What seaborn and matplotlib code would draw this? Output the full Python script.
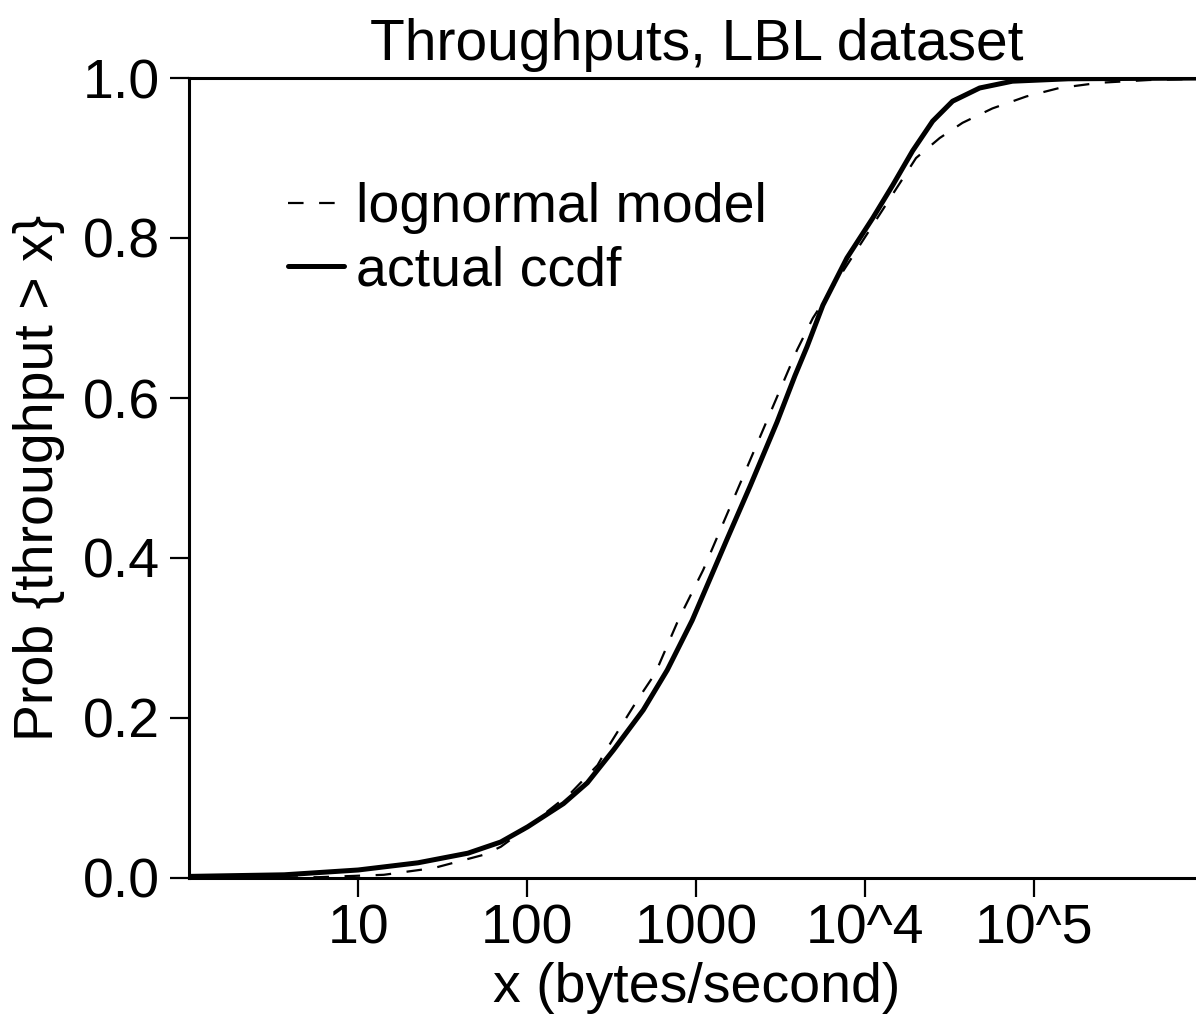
import numpy as np
import pandas as pd
import matplotlib
matplotlib.use('Agg')
import matplotlib.pyplot as plt
import seaborn as sns

# values (x in bytes/second, y = probability)
actual_x = [1, 3.66, 10, 22.6, 44.6, 69.8, 100.7, 164, 227, 324, 486, 674, 946,
            1524, 2084, 3006, 3837, 4519, 5610, 7780, 11070, 14520, 19050,
            25000, 32810, 47430, 74130, 158500, 1000000]
actual_y = [0.002, 0.004, 0.010, 0.019, 0.031, 0.045, 0.064, 0.093, 0.119, 0.160,
            0.210, 0.260, 0.322, 0.424, 0.490, 0.570, 0.628, 0.664, 0.716,
            0.775, 0.825, 0.866, 0.909, 0.946, 0.971, 0.9875, 0.996, 0.999, 1.0]

model_x = [1, 5.8, 14.2, 28.1, 55.3, 69.8, 95.5, 180.7, 260.6, 298.5, 448.7,
           572.8, 783.4, 1099, 2084, 3945, 4898, 19950, 27540, 37580, 56490,
           89740, 140300, 241500, 476400, 1000000]
model_y = [0.0002, 0.001, 0.004, 0.0125, 0.029, 0.039, 0.060, 0.106, 0.141,
           0.1625, 0.2225, 0.256, 0.3225, 0.385, 0.5225, 0.660, 0.700, 0.900,
           0.925, 0.944, 0.962, 0.977, 0.9875, 0.994, 0.9975, 0.999]

xticks = [10, 100, 1000, 1e4, 1e5]
xtick_labels = ['10', '100', '1000', '10^4', '10^5']
yticks = [0.0, 0.2, 0.4, 0.6, 0.8, 1.0]

sns.set_theme(style='ticks')
plt.rcParams['font.family'] = ['Liberation Sans', 'DejaVu Sans']
plt.rcParams['text.color'] = 'black'

fig = plt.figure(figsize=(11.96, 10.18), dpi=100)
ax = fig.add_axes([189 / 1196, 140 / 1018, 1014.5 / 1196, 800 / 1018])

model_df = pd.DataFrame({'x': model_x, 'y': model_y})
actual_df = pd.DataFrame({'x': actual_x, 'y': actual_y})

sns.lineplot(data=model_df, x='x', y='y', ax=ax, color='black', linewidth=1.6,
             linestyle=(0, (7, 7)), label='lognormal model', estimator=None)
sns.lineplot(data=actual_df, x='x', y='y', ax=ax, color='black', linewidth=3.6,
             label='actual ccdf', estimator=None)

ax.set_xscale('log')
ax.set_xlim(1, 1e6)
ax.set_ylim(0, 1)
ax.set_xticks(xticks)
ax.set_xticklabels(xtick_labels)
ax.xaxis.set_minor_locator(matplotlib.ticker.NullLocator())
ax.set_yticks(yticks)
ax.set_yticklabels([f'{v:.1f}' for v in yticks])

ax.tick_params(axis='both', which='major', labelsize=40, length=14, width=1.6,
               direction='out', color='black', labelcolor='black')
ax.tick_params(axis='y', pad=7)
ax.tick_params(axis='x', pad=4)

for side in ['left', 'bottom', 'top']:
    ax.spines[side].set_linewidth(2.2)
    ax.spines[side].set_color('black')
ax.spines['right'].set_visible(False)

ax.set_title('Throughputs, LBL dataset', fontsize=41, pad=13, color='black')
ax.set_xlabel('x (bytes/second)', fontsize=40, labelpad=5, color='black')
ax.set_ylabel('Prob {throughput > x}', fontsize=40, labelpad=13, color='black')

leg = ax.legend(loc='upper left', bbox_to_anchor=(0.0976, 0.87), frameon=False,
                fontsize=40, handlelength=1.0, handletextpad=0.22,
                labelspacing=0.21, borderpad=0, borderaxespad=0)
for t in leg.get_texts():
    t.set_color('black')

ax.set_facecolor('white')
fig.patch.set_facecolor('white')
fig.savefig('out.png', dpi=100)
